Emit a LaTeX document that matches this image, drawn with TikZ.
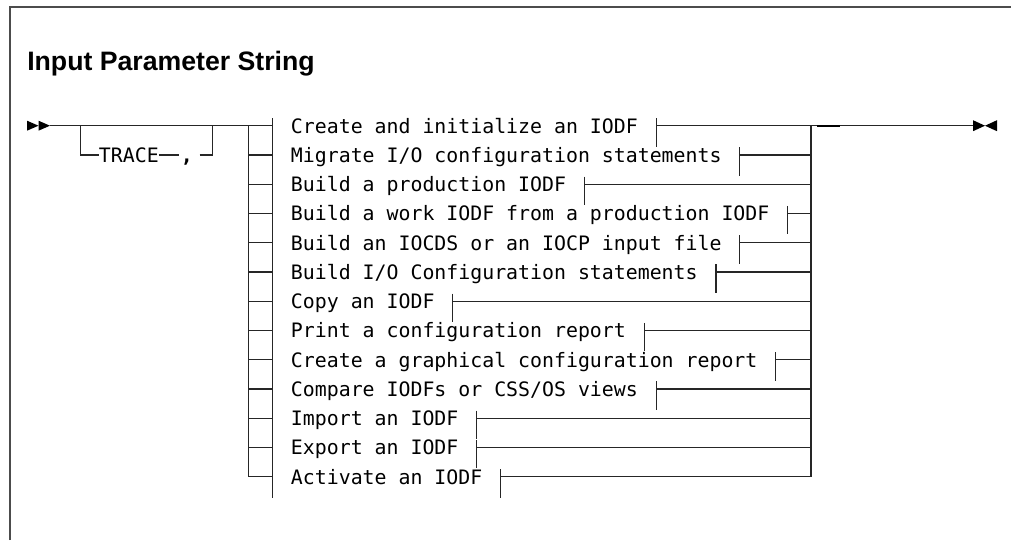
\documentclass[tikz,border=0pt]{standalone}
\usepackage{fontspec}
\newfontfamily\monofont{DejaVu Sans Mono}
\newfontfamily\titlefont{Liberation Sans}
\begin{document}
\begin{tikzpicture}[x=0.75pt,y=-0.75pt,
  rail/.style={line width=0.9pt,black!85},
  frame/.style={line width=1.5pt,black!70},
  mono/.style={font=\monofont\fontsize{14.9}{18}\selectfont,inner sep=0pt,
    text height=11.25pt,text depth=0pt,anchor=west},
  titletext/.style={font=\titlefont\bfseries\fontsize{20}{24}\selectfont,inner sep=0pt,anchor=base west},
  tip/.style={fill=black}]
\useasboundingbox (0,0) rectangle (1011,540);
% frame
\draw[frame] (10,540) -- (10,6.5) -- (1011,6.5);
% title
\node[titletext] (title) at (27,70.5) {Input Parameter String};
% start arrows
\fill[tip] (27,120.7) -- (38.5,125.7) -- (27,130.7) -- cycle;
\fill[tip] (38.5,120.7) -- (50,125.7) -- (38.5,130.7) -- cycle;
\coordinate (start) at (50,125.7);
\coordinate (chs) at (272.7,125.7);
\draw[rail] (start) -- (chs);
% TRACE option
\coordinate (tr1) at (80.7,125.7);
\coordinate (tr2) at (212.7,125.7);
\node[mono] (trace) at (98.7,155) {TRACE};
\node[mono] (comma) at (180.5,155) {\bfseries ,};
\draw[rail] (tr1) -- (tr1 |- trace.west) -- (trace.west);
\draw[rail] (trace.east) -- ([xshift=-1pt]comma.west);
\draw[rail] ([xshift=5pt]comma.east) -- (tr2 |- comma.east) -- (tr2);
% choice block
\coordinate (lv0) at (248.3,125.7);
\coordinate (lv1) at (248.3,476.7);
\coordinate (rv0) at (811,125.7);
\coordinate (rv1) at (811,476.7);
\coordinate (sk0) at (272.7,118.2);
\coordinate (sk1) at (272.7,498);
\draw[rail] (lv0) -- (lv1);
\draw[rail] (rv0) -- (rv1);
\draw[rail] (sk0) -- (sk1);
\foreach \t [count=\i from 0] in {Create and initialize an IODF,
  Migrate I/O configuration statements,
  Build a production IODF,
  Build a work IODF from a production IODF,
  Build an IOCDS or an IOCP input file,
  Build I/O Configuration statements,
  Copy an IODF,
  Print a configuration report,
  Create a graphical configuration report,
  Compare IODFs or CSS/OS views,
  Import an IODF,
  Export an IODF,
  Activate an IODF}{
  \pgfmathsetmacro\yy{125.7+29.25*\i}
  \node[mono] (r\i) at (290.7,\yy) {\t};
  \coordinate (e\i) at ([xshift=13.5pt]r\i.east);
  \draw[rail] (248.3,\yy) -- (272.7,\yy);
  \draw[rail] ([yshift=5.625pt]e\i) -- ([yshift=-15.75pt]e\i);
  \draw[rail] (e\i) -- (rv0 |- e\i);
}
% end
\coordinate (end) at (973,125.7);
\draw[rail] (rv0) -- (end);
\draw[line width=1.6pt,black] (816.7,125.7) -- (840,125.7);
\fill[tip] (973,120.2) -- (985,125.7) -- (973,131.2) -- cycle;
\fill[tip] (997,120.2) -- (985,125.7) -- (997,131.2) -- cycle;
\end{tikzpicture}
\end{document}
